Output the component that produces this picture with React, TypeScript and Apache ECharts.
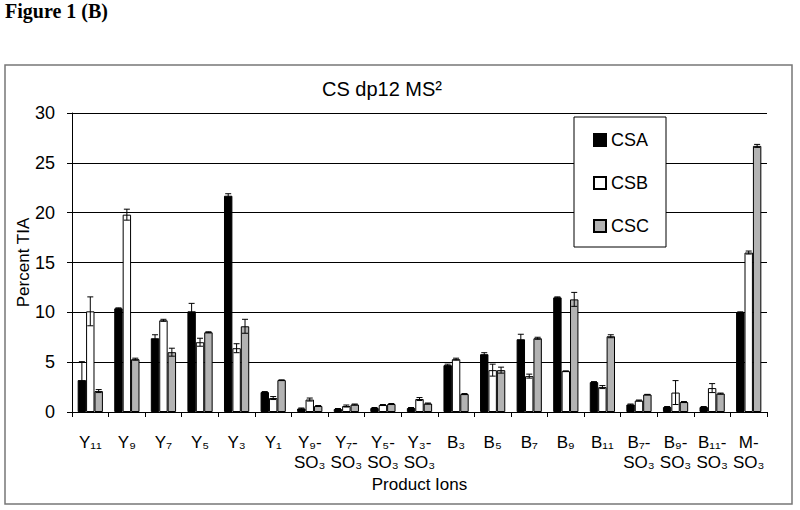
import React, { useEffect, useRef } from "react";
import * as echarts from "echarts";

const categories = [
  "Y₁₁", "Y₉", "Y₇", "Y₅", "Y₃", "Y₁",
  "Y₉-\nSO₃", "Y₇-\nSO₃", "Y₅-\nSO₃", "Y₃-\nSO₃",
  "B₃", "B₅", "B₇", "B₉", "B₁₁",
  "B₇-\nSO₃", "B₉-\nSO₃", "B₁₁-\nSO₃", "M-\nSO₃",
];
const seriesNames = ["CSA", "CSB", "CSC"];
const csa = [3.2, 10.4, 7.4, 10.1, 21.7, 2.0, 0.35, 0.3, 0.4, 0.4, 4.7, 5.8, 7.3, 11.5, 3.0, 0.75, 0.5, 0.5, 10.0];
const csaErr = [1.85, 0.05, 0.35, 0.8, 0.2, 0.05, 0.05, 0.05, 0.05, 0.05, 0.1, 0.15, 0.5, 0.05, 0.05, 0.05, 0.05, 0.05, 0.05];
const csb = [10.1, 19.8, 9.2, 7.0, 6.4, 1.4, 1.25, 0.6, 0.7, 1.3, 5.3, 4.2, 3.6, 4.1, 2.5, 1.15, 1.95, 2.4, 16.0];
const csbErr = [1.45, 0.55, 0.1, 0.4, 0.45, 0.15, 0.15, 0.1, 0.05, 0.15, 0.1, 0.6, 0.2, 0.02, 0.15, 0.05, 1.2, 0.45, 0.15];
const csc = [2.1, 5.3, 6.0, 8.0, 8.6, 3.2, 0.6, 0.75, 0.8, 0.85, 1.8, 4.2, 7.4, 11.3, 7.6, 1.75, 1.0, 1.85, 26.7];
const cscErr = [0.15, 0.1, 0.4, 0.05, 0.7, 0.02, 0.05, 0.05, 0.05, 0.05, 0.05, 0.3, 0.1, 0.7, 0.15, 0.02, 0.05, 0.05, 0.15];
const yTicks = { min: 0, max: 30, interval: 5 };

const FONT = "'Liberation Sans', Arial, sans-serif";
const GAP = 0.31;

export default function App() {
  const ref = useRef<HTMLDivElement>(null);
  useEffect(() => {
    if (!ref.current) return;
    const chart = echarts.init(ref.current, null, { renderer: "svg" });
    const values = [csa, csb, csc];
    const errs = [csaErr, csbErr, cscErr];
    const fills = ["#000000", "#ffffff", "#b3b3b3"];

    const bars = seriesNames.map((name, k) => ({
      name,
      type: "bar",
      data: values[k],
      barGap: "0%",
      barCategoryGap: `${GAP * 100}%`,
      itemStyle: { color: fills[k], borderColor: "#000", borderWidth: 1 },
    }));

    const errSeries = seriesNames.map((name, k) => ({
      name: name + " err",
      type: "custom",
      z: 5,
      data: values[k].map((v, i) => [i, v, errs[k][i]]),
      encode: { x: 0, y: 1 },
      renderItem: (params: any, api: any) => {
        const idx = api.value(0);
        const v = api.value(1);
        const e = api.value(2);
        const c = api.coord([idx, v]);
        const band = api.size([1, 0])[0];
        const bw = (band * (1 - GAP)) / 3;
        const x = c[0] + (k - 1) * bw;
        const top = api.coord([idx, v + e])[1];
        const bot = api.coord([idx, Math.max(0, v - e)])[1];
        const cap = 3;
        const st = { stroke: "#000", lineWidth: 1 };
        return {
          type: "group",
          children: [
            { type: "line", shape: { x1: x, y1: top, x2: x, y2: bot }, style: st },
            { type: "line", shape: { x1: x - cap, y1: top, x2: x + cap, y2: top }, style: st },
            { type: "line", shape: { x1: x - cap, y1: bot, x2: x + cap, y2: bot }, style: st },
          ],
        };
      },
    }));

    chart.setOption({
      animation: false,
      backgroundColor: "#fff",
      textStyle: { fontFamily: FONT },
      graphic: [
        {
          type: "text",
          left: 5,
          top: 1,
          style: { text: "Figure 1 (B)", font: "bold 20px 'Liberation Serif', 'Times New Roman', serif", fill: "#000" },
        },
        {
          type: "rect",
          shape: { x: 5, y: 65, width: 787, height: 439 },
          style: { fill: "none", stroke: "#777", lineWidth: 1.5 },
          z: -1,
        },
        {
          type: "text",
          x: 382,
          y: 89,
          style: {
            text: "CS dp12 MS²",
            font: `20px ${FONT}`,
            fill: "#000",
            textAlign: "center",
            textVerticalAlign: "middle",
          },
        },
      ],
      legend: {
        data: seriesNames,
        orient: "vertical",
        left: 574,
        top: 117,
        icon: "rect",
        itemWidth: 12,
        itemHeight: 12,
        itemGap: 25,
        padding: [14, 17, 12, 19],
        borderColor: "#000",
        borderWidth: 1,
        backgroundColor: "#fff",
        textStyle: { fontSize: 18, color: "#000", fontFamily: FONT },
        z: 10,
      },
      grid: { left: 72, top: 113, width: 695, height: 299 },
      xAxis: {
        type: "category",
        data: categories,
        name: "Product Ions",
        nameLocation: "middle",
        nameGap: 64,
        nameMoveOverlap: false,
        nameTextStyle: { fontSize: 17, color: "#000", fontFamily: FONT },
        axisLine: { lineStyle: { color: "#000", width: 1 } },
        axisTick: { show: true, length: 5, lineStyle: { color: "#000" } },
        axisLabel: {
          interval: 0,
          fontSize: 17,
          lineHeight: 20,
          color: "#000",
          margin: 20,
          fontFamily: FONT,
        },
      },
      yAxis: {
        type: "value",
        min: yTicks.min,
        max: yTicks.max,
        interval: yTicks.interval,
        name: "Percent TIA",
        nameLocation: "middle",
        nameGap: 40,
        nameMoveOverlap: false,
        nameRotate: 90,
        nameTextStyle: { fontSize: 17, color: "#000", fontFamily: FONT },
        axisLine: { show: true, lineStyle: { color: "#000", width: 1 } },
        axisTick: { show: true, length: 5, lineStyle: { color: "#000" } },
        axisLabel: { fontSize: 18, color: "#000", margin: 17, fontFamily: FONT },
        splitLine: { lineStyle: { color: "#000", width: 1 } },
      },
      series: [...bars, ...errSeries],
    });
    return () => chart.dispose();
  }, []);
  return (
    <div
      ref={ref}
      style={{ position: "fixed", left: 0, top: 0, width: 800, height: 510 }}
    />
  );
}
